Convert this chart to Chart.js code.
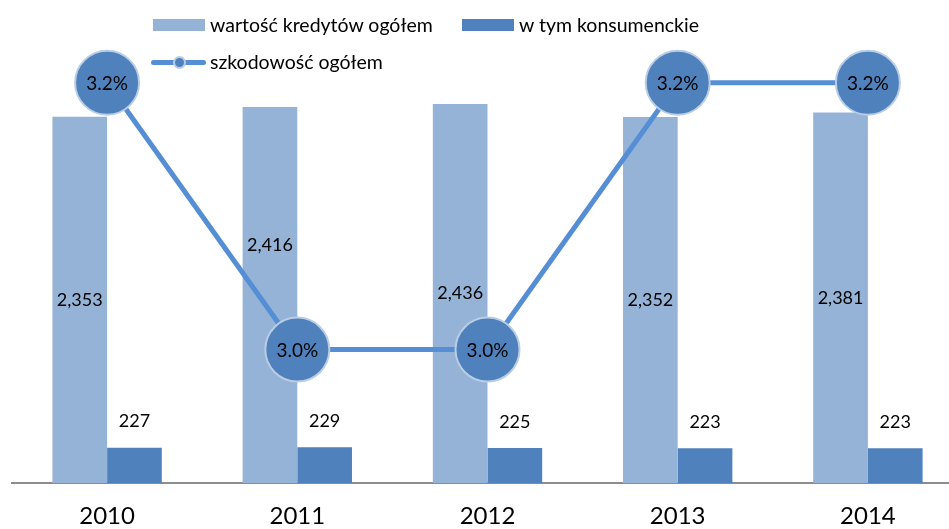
<!DOCTYPE html>
<html lang="pl">
<head>
    <meta charset="utf-8">
    <title>Kredyty i szkodowość</title>
    <script src="https://cdn.jsdelivr.net/npm/chart.js@4.4.1/dist/chart.umd.min.js"></script>
    <style>
        body { margin: 0; background: #fff; overflow: hidden; width: 949px; height: 529px; position: relative; }
        .wrap { position: absolute; left: 0; top: 0; width: 970px; height: 529px; }
        .legend { position: absolute; font-family: Lato, "Noto Sans", sans-serif; font-size: 19.5px; color: #000; }
        .legend .item { position: absolute; white-space: nowrap; line-height: 20px; }
        .sw { position: absolute; height: 12px; width: 52px; }
        .lineicon { position: absolute; width: 55px; height: 5px; background: #558ED5; border-radius: 3px; }
        .lineicon span { position: absolute; left: 22px; top: -4px; width: 9px; height: 9px; border-radius: 50%; background: #4F81BD; border: 2px solid #B9CDE5; }
    </style>
</head>

<body>
    <div class="wrap"><canvas id="chart" width="970" height="529"></canvas></div>

    <div class="legend">
        <div class="sw" style="left:153px; top:19px; background:#95B3D7"></div>
        <div class="item" style="left:210px; top:15px">wartość kredytów ogółem</div>
        <div class="sw" style="left:462px; top:19px; background:#4F81BD"></div>
        <div class="item" style="left:519px; top:15px">w tym konsumenckie</div>
        <div class="lineicon" style="left:151px; top:60px"><span></span></div>
        <div class="item" style="left:210px; top:52px">szkodowość ogółem</div>
    </div>

    <script>
        // dane z wykresu
        const lata = ['2010', '2011', '2012', '2013', '2014'];
        const kredytyOgolem = [2353, 2416, 2436, 2352, 2381];
        const konsumenckie = [227, 229, 225, 223, 223];
        const szkodowosc = [3.2, 3.0, 3.0, 3.2, 3.2];

        // przesuniecie etykiety w gore (px), zeby nie wchodzila na kolko
        const podniesienieEtykiety = [0, 50, 0, 0, 0];

        const fmt = v => v.toLocaleString('en-US');

        const etykiety = {
            id: 'etykiety',
            afterDatasetsDraw(chart) {
                const ctx = chart.ctx;
                ctx.save();
                ctx.fillStyle = '#000';
                ctx.textAlign = 'center';
                ctx.textBaseline = 'middle';

                ctx.font = '18px Lato, "Noto Sans", sans-serif';
                chart.getDatasetMeta(1).data.forEach((bar, i) => {
                    const y = (bar.y + bar.base) / 2 - podniesienieEtykiety[i];
                    ctx.fillText(fmt(kredytyOgolem[i]), bar.x, y);
                });
                chart.getDatasetMeta(2).data.forEach((bar, i) => {
                    ctx.fillText(fmt(konsumenckie[i]), bar.x, bar.y - 26);
                });

                ctx.font = '19px Lato, "Noto Sans", sans-serif';
                chart.getDatasetMeta(0).data.forEach((pt, i) => {
                    ctx.fillText(szkodowosc[i].toFixed(1) + '%', pt.x, pt.y + 1);
                });
                ctx.restore();
            }
        };

        new Chart(document.getElementById('chart'), {
            type: 'bar',
            data: {
                labels: lata,
                datasets: [
                    {
                        type: 'line',
                        label: 'szkodowość ogółem',
                        data: szkodowosc,
                        yAxisID: 'y2',
                        borderColor: '#558ED5',
                        borderWidth: 5,
                        pointRadius: 32,
                        pointBackgroundColor: '#4F81BD',
                        pointBorderColor: '#B9CDE5',
                        pointBorderWidth: 2,
                        tension: 0,
                        clip: false,
                        order: 0
                    },
                    {
                        label: 'wartość kredytów ogółem',
                        data: kredytyOgolem,
                        backgroundColor: '#95B3D7',
                        barPercentage: 1,
                        categoryPercentage: 0.575,
                        order: 1
                    },
                    {
                        label: 'w tym konsumenckie',
                        data: konsumenckie,
                        backgroundColor: '#4F81BD',
                        barPercentage: 1,
                        categoryPercentage: 0.575,
                        order: 1
                    }
                ]
            },
            options: {
                responsive: false,
                animation: false,
                layout: { autoPadding: false, padding: { left: 12, right: 7, top: 0, bottom: 0 } },
                plugins: {
                    legend: { display: false },
                    tooltip: { enabled: false }
                },
                scales: {
                    x: {
                        grid: { display: false, drawTicks: false },
                        border: { color: '#8C8C8C', width: 2 },
                        ticks: {
                            color: '#000',
                            padding: 19,
                            font: { family: 'Lato, "Noto Sans", sans-serif', size: 24 }
                        },
                        afterFit(scale) { scale.height = 46; }
                    },
                    y: {
                        display: false,
                        min: 0,
                        max: 3104
                    },
                    y2: {
                        display: false,
                        position: 'right',
                        min: 2.9,
                        max: 3.262
                    }
                }
            },
            plugins: [etykiety]
        });
    </script>
</body>

</html>
